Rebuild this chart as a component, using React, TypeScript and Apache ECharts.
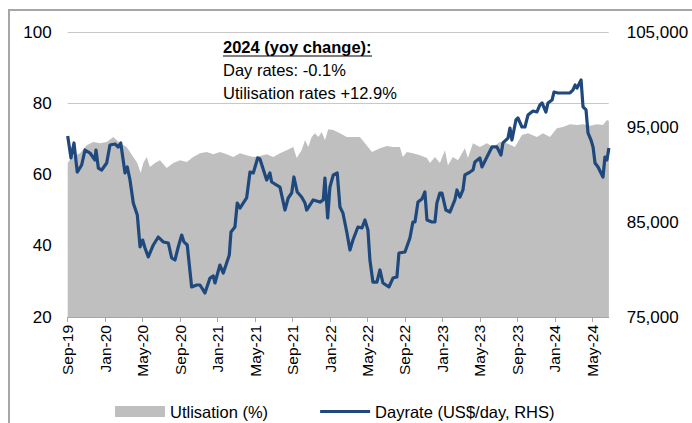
import { useEffect, useRef } from 'react';
import * as echarts from 'echarts';

// x positions are months elapsed since Sep-2019
const xTickLabels = ['Sep-19', 'Jan-20', 'May-20', 'Sep-20', 'Jan-21', 'May-21', 'Sep-21', 'Jan-22', 'May-22', 'Sep-22', 'Jan-23', 'May-23', 'Sep-23', 'Jan-24', 'May-24'];
const xTickMonths = xTickLabels.map((_, i) => i * 4);

const utilMonth = [0, 0.43, 1.31, 2.03, 2.73, 3.45, 4.16, 4.87, 5.58, 6.3, 7.0, 7.43, 7.79, 8.07, 8.43, 8.78, 9.32, 9.85, 10.57, 11.27, 11.99, 12.7, 13.4, 14.12, 14.83, 15.54, 16.25, 16.97, 17.67, 18.39, 19.1, 19.81, 20.52, 21.24, 21.94, 22.66, 23.37, 24.08, 24.44, 24.97, 25.33, 25.68, 26.04, 26.39, 26.75, 27.11, 27.46, 27.81, 28.35, 29.06, 29.78, 30.13, 31.19, 31.73, 32.48, 33.33, 34.08, 34.72, 35.46, 35.78, 36.21, 36.85, 37.6, 38.35, 38.67, 39.2, 39.73, 40.27, 40.59, 41.12, 41.66, 42.4, 42.72, 43.26, 44.0, 44.75, 45.39, 46.14, 46.88, 47.74, 48.49, 49.13, 50.09, 50.73, 51.48, 52.22, 52.86, 53.62, 54.37, 55.01, 55.76, 56.5, 57.14, 57.56, 57.77];
const utilValue = [63.2, 64.9, 66.0, 68.2, 69.1, 68.8, 69.1, 70.5, 68.8, 67.7, 64.9, 63.2, 60.4, 63.2, 64.9, 62.1, 63.2, 64.0, 61.8, 63.2, 64.0, 63.5, 64.9, 66.0, 66.3, 65.7, 66.3, 65.7, 64.9, 66.0, 65.4, 64.9, 65.2, 65.7, 64.9, 66.0, 66.8, 67.7, 64.6, 66.8, 69.6, 67.7, 70.5, 71.6, 70.5, 71.9, 69.6, 72.7, 72.5, 71.6, 70.5, 70.5, 70.5, 68.8, 66.3, 67.4, 68.0, 67.7, 67.7, 64.9, 66.3, 66.0, 65.4, 64.6, 63.2, 64.9, 63.2, 66.8, 62.6, 64.9, 64.0, 67.4, 64.6, 68.8, 67.7, 68.8, 67.7, 69.1, 68.8, 67.7, 71.1, 71.6, 70.5, 71.6, 70.5, 73.0, 73.3, 74.1, 73.9, 74.1, 73.7, 74.1, 73.9, 75.3, 75.0];

const rateMonth = [0, 0.35, 0.67, 1.02, 1.49, 1.85, 2.38, 2.91, 3.02, 3.27, 3.63, 4.16, 4.51, 5.05, 5.4, 5.66, 6.12, 6.36, 6.65, 7.0, 7.43, 7.72, 8.0, 8.25, 8.6, 9.14, 9.67, 10.2, 10.74, 11.1, 11.45, 11.8, 12.17, 12.41, 12.76, 13.23, 13.77, 14.12, 14.65, 15.19, 15.54, 15.72, 16.25, 16.61, 17.25, 17.43, 17.85, 18.1, 18.39, 19.1, 19.46, 19.81, 20.28, 20.52, 21.24, 21.59, 21.77, 22.66, 23.19, 23.54, 23.91, 24.15, 24.5, 24.97, 25.33, 25.51, 26.21, 26.93, 27.28, 27.46, 27.75, 27.99, 28.35, 28.77, 29.06, 29.38, 29.81, 30.13, 30.45, 30.98, 31.41, 31.73, 32.05, 32.26, 32.58, 33.01, 33.33, 33.65, 34.29, 34.72, 35.14, 35.36, 36.0, 36.53, 36.85, 37.07, 37.39, 37.81, 38.13, 38.35, 38.88, 39.2, 39.41, 39.73, 39.95, 40.37, 40.8, 41.33, 41.55, 41.87, 42.19, 42.4, 42.94, 43.26, 43.47, 44.0, 44.22, 44.75, 45.29, 45.82, 46.25, 46.46, 47.0, 47.21, 47.42, 47.85, 48.06, 48.49, 48.81, 49.13, 49.67, 50.09, 50.41, 50.63, 51.05, 51.27, 51.7, 51.91, 52.34, 52.98, 53.62, 53.94, 54.16, 54.37, 54.8, 55.01, 55.33, 55.54, 55.86, 56.08, 56.29, 56.61, 57.03, 57.14, 57.35, 57.56, 57.77];
const rateValue = [94050, 91740, 93320, 90260, 91000, 92580, 92260, 91530, 92580, 90680, 90470, 91210, 93100, 93210, 92900, 93320, 90160, 90790, 89420, 87000, 85740, 82370, 83100, 82260, 81320, 82580, 83420, 82900, 82790, 81210, 81000, 82370, 83630, 82900, 82580, 78160, 78370, 78370, 77530, 79100, 79320, 78580, 80470, 79630, 81530, 83950, 84470, 87000, 86470, 87530, 90260, 90160, 91740, 91630, 89420, 90160, 89210, 88680, 86260, 87530, 88050, 89740, 88160, 87630, 87000, 86260, 87320, 87100, 87320, 89630, 85420, 88680, 89950, 90160, 86580, 85950, 83840, 82050, 83100, 84470, 84370, 85210, 84160, 81000, 78680, 78680, 79950, 78580, 78160, 79100, 79210, 81740, 81840, 83310, 85000, 85000, 87100, 87420, 88160, 85210, 85000, 85000, 87000, 88050, 88050, 86260, 86050, 87320, 88370, 87630, 88370, 89950, 90260, 90470, 91320, 91740, 90790, 91840, 92900, 92900, 92050, 93320, 93840, 94890, 93630, 95740, 95950, 95000, 95000, 96260, 96680, 96580, 97320, 97530, 96580, 97530, 97840, 98680, 98580, 98580, 98580, 98900, 99420, 99100, 99950, 97110, 96790, 94370, 93630, 92900, 91210, 90790, 89950, 89740, 91840, 91530, 92790];

const annotationTitle = '2024 (yoy change):';
const annotationLines = ['Day rates: -0.1%', 'Utilisation rates +12.9%'];

const FONT = '"Liberation Sans", Arial, sans-serif';
// thin horizontal bar centred in a 50x11 box (corner moves keep the box size)
const LINE_ICON = 'path://M0,0 M50,11 M0,4 L50,4 L50,7 L0,7 Z';

export default function App() {
  const ref = useRef<HTMLDivElement>(null);
  useEffect(() => {
    const chart = echarts.init(ref.current!, null, { renderer: 'svg' });
    chart.setOption({
      animation: false,
      textStyle: { fontFamily: FONT },
      grid: { left: 67.7, right: 83.3, top: 32, bottom: 106, containLabel: false },
      legend: {
        left: 115,
        top: 403,
        padding: 0,
        itemWidth: 50,
        itemHeight: 11,
        itemGap: 52,
        textStyle: { fontSize: 16.5, color: '#000', fontFamily: FONT },
        data: [
          { name: 'Utlisation (%)', icon: 'rect' },
          { name: 'Dayrate (US$/day, RHS)', icon: LINE_ICON },
        ],
      },
      xAxis: {
        type: 'value',
        min: 0,
        max: 57.75,
        interval: 4,
        axisLine: { show: true, lineStyle: { color: '#a6a6a6', width: 1 } },
        axisTick: { show: true, length: 5, customValues: xTickMonths, lineStyle: { color: '#a6a6a6' } },
        axisLabel: {
          customValues: xTickMonths,
          rotate: 90,
          margin: 8,
          fontSize: 15.5,
          color: '#000',
          fontFamily: FONT,
          formatter: (v: number) => (Math.abs(v / 4 - Math.round(v / 4)) < 1e-6 ? xTickLabels[Math.round(v / 4)] ?? '' : ''),
        },
        splitLine: { show: false },
      },
      yAxis: [
        {
          type: 'value',
          min: 20,
          max: 100,
          interval: 20,
          axisLine: { show: false },
          axisTick: { show: false },
          axisLabel: { fontSize: 17, color: '#000', margin: 16, fontFamily: FONT },
          splitLine: { show: true, lineStyle: { color: '#c8c8c8', width: 1 } },
        },
        {
          type: 'value',
          min: 75000,
          max: 105000,
          interval: 5000,
          position: 'right',
          axisLine: { show: false },
          axisTick: { show: false },
          splitLine: { show: false },
          axisLabel: {
            fontSize: 17,
            color: '#000',
            margin: 18,
            fontFamily: FONT,
            formatter: (v: number) => ((v - 75000) % 10000 === 0 ? v.toLocaleString('en-US') : ''),
          },
        },
      ],
      series: [
        {
          name: 'Utlisation (%)',
          type: 'line',
          yAxisIndex: 0,
          data: utilMonth.map((m, i) => [m, utilValue[i]]),
          symbol: 'none',
          color: '#bfbfbf',
          itemStyle: { color: '#bfbfbf' },
          lineStyle: { width: 0, color: '#bfbfbf' },
          areaStyle: { color: '#bfbfbf', opacity: 1, origin: 'start' },
          z: 1,
        },
        {
          name: 'Dayrate (US$/day, RHS)',
          type: 'line',
          yAxisIndex: 1,
          data: rateMonth.map((m, i) => [m, rateValue[i]]),
          symbol: 'none',
          color: '#1f497d',
          itemStyle: { color: '#1f497d' },
          lineStyle: { width: 3.2, color: '#1f497d', join: 'round' },
          z: 2,
        },
      ],
      graphic: [
        { type: 'line', shape: { x1: 8, y1: 10, x2: 692, y2: 10 }, style: { stroke: '#a6a6a6', lineWidth: 2 }, silent: true },
        { type: 'line', shape: { x1: 9, y1: 9, x2: 9, y2: 423 }, style: { stroke: '#a6a6a6', lineWidth: 2 }, silent: true },
        {
          type: 'text',
          x: 223,
          y: 47,
          style: { text: annotationTitle, fontSize: 16.5, fontWeight: 'bold', fontFamily: FONT, fill: '#000', verticalAlign: 'middle', align: 'left' },
          silent: true,
        },
        { type: 'line', shape: { x1: 223, y1: 56, x2: 372, y2: 56 }, style: { stroke: '#000', lineWidth: 1.2 }, silent: true },
        ...annotationLines.map((t, i) => ({
          type: 'text',
          x: 223,
          y: 70 + i * 23,
          style: { text: t, fontSize: 16.5, fontFamily: FONT, fill: '#000', verticalAlign: 'middle', align: 'left' },
          silent: true,
        })),
      ],
    });
    return () => chart.dispose();
  }, []);
  return <div ref={ref} style={{ position: 'absolute', left: 0, top: 0, width: 692, height: 423 }} />;
}
